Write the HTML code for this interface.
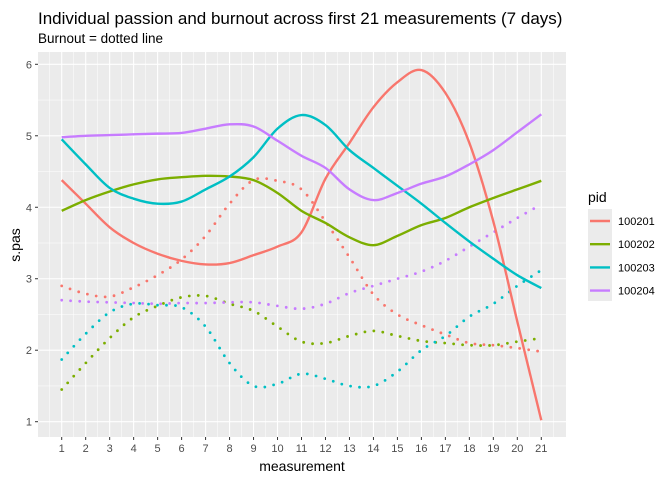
<!DOCTYPE html>
<html><head><meta charset="utf-8"><style>
body{margin:0;background:#fff;font-family:"Liberation Sans",sans-serif}
svg text{font-family:"Liberation Sans",sans-serif}
</style></head><body>
<svg id="chart" width="672" height="480">
<text x="38" y="24" font-size="17" fill="#000">Individual passion and burnout across first 21 measurements (7 days)</text>
<text x="38" y="43" font-size="13.5" fill="#000">Burnout = dotted line</text>
<rect x="38" y="52" width="528" height="385" fill="#ebebeb"/>
<g id="grid"></g><g id="series"></g><g id="axes"></g>
<text x="302" y="471" font-size="14" text-anchor="middle">measurement</text>
<text transform="translate(20,245) rotate(-90)" font-size="14" text-anchor="middle">s.pas</text>
<g>
<text x="588" y="202" font-size="14">pid</text>
<rect x="588" y="209" width="24" height="92" fill="#ebebeb"/>
<g id="legend"></g>
</g>
</svg>
<script>
const xs=[1,2,3,4,5,6,7,8,9,10,11,12,13,14,15,16,17,18,19,20,21];
const pids=["100201","100202","100203","100204"];
const colors=["#F8766D","#7CAE00","#00BFC4","#C77CFF"];
const yTicks=[1,2,3,4,5,6];
const passion201=[4.38,4.05,3.72,3.5,3.35,3.25,3.2,3.22,3.33,3.45,3.65,4.4,4.9,5.4,5.75,5.92,5.6,4.9,3.8,2.4,1.02];
const passion202=[3.95,4.1,4.22,4.32,4.39,4.42,4.44,4.43,4.38,4.2,3.95,3.78,3.58,3.47,3.6,3.75,3.85,4.0,4.13,4.25,4.37];
const passion203=[4.95,4.6,4.27,4.12,4.05,4.08,4.25,4.43,4.7,5.1,5.29,5.15,4.8,4.55,4.3,4.05,3.78,3.52,3.28,3.05,2.87];
const passion204=[4.98,5.0,5.01,5.02,5.03,5.04,5.1,5.16,5.13,4.93,4.72,4.55,4.25,4.1,4.2,4.33,4.43,4.6,4.8,5.05,5.3];
const burnout201=[2.9,2.79,2.75,2.88,3.05,3.27,3.6,4.05,4.38,4.37,4.25,3.8,3.3,2.78,2.5,2.35,2.22,2.1,2.07,2.03,1.98];
const burnout202=[1.45,1.82,2.17,2.46,2.62,2.74,2.76,2.65,2.55,2.33,2.12,2.1,2.2,2.27,2.2,2.13,2.1,2.07,2.07,2.12,2.17];
const burnout203=[1.87,2.23,2.53,2.65,2.63,2.6,2.33,1.82,1.5,1.53,1.67,1.6,1.5,1.5,1.7,2.0,2.2,2.47,2.65,2.9,3.12];
const burnout204=[2.7,2.68,2.67,2.66,2.65,2.66,2.66,2.67,2.67,2.62,2.58,2.65,2.8,2.9,3.0,3.1,3.25,3.45,3.65,3.85,4.04];
const passion=[passion201,passion202,passion203,passion204];
const burnout=[burnout201,burnout202,burnout203,burnout204];

const NS="http://www.w3.org/2000/svg";
const X=v=>61.7+(v-1)*23.98;
const Y=v=>421.7-(v-1)*71.48;
function mk(tag,attrs,parent){const e=document.createElementNS(NS,tag);for(const k in attrs)e.setAttribute(k,attrs[k]);parent.appendChild(e);return e;}
const grid=document.getElementById('grid'),axes=document.getElementById('axes'),ser=document.getElementById('series'),leg=document.getElementById('legend');
for(let v=0.5;v<=21.5;v+=1){const l=mk('line',{x1:X(v),x2:X(v),y1:52,y2:437,stroke:'#fff','stroke-width':0.5},grid);

}
for(let v=0.5;v<=6;v+=1){const l=mk('line',{x1:38,x2:566,y1:Y(v),y2:Y(v),stroke:'#fff','stroke-width':0.5},grid);

}
xs.forEach(v=>{const l=mk('line',{x1:X(v),x2:X(v),y1:52,y2:437,stroke:'#fff','stroke-width':1.1},grid);


const t=mk('line',{x1:X(v),x2:X(v),y1:437,y2:440,stroke:'#333'},axes);


const tx=mk('text',{x:X(v),y:452,'font-size':11,'text-anchor':'middle',fill:'#4d4d4d'},axes);tx.textContent=v;

});
yTicks.forEach(v=>{const l=mk('line',{x1:38,x2:566,y1:Y(v),y2:Y(v),stroke:'#fff','stroke-width':1.1},grid);


const t=mk('line',{x1:35,x2:38,y1:Y(v),y2:Y(v),stroke:'#333'},axes);


const tx=mk('text',{x:32,y:Y(v)+4,'font-size':11,'text-anchor':'end',fill:'#4d4d4d'},axes);tx.textContent=v;

});
function pathD(vals){const p=vals.map((v,i)=>[X(xs[i]),Y(v)]);let d='M'+p[0][0]+','+p[0][1];
for(let i=0;i<p.length-1;i++){const p0=p[i-1]||p[i],p1=p[i],p2=p[i+1],p3=p[i+2]||p2;
d+=' C'+(p1[0]+(p2[0]-p0[0])/6)+','+(p1[1]+(p2[1]-p0[1])/6)+' '+(p2[0]-(p3[0]-p1[0])/6)+','+(p2[1]-(p3[1]-p1[1])/6)+' '+p2[0]+','+p2[1];}return d;}
pids.forEach((id,k)=>{
const b=mk('path',{d:pathD(burnout[k]),fill:'none',stroke:colors[k],'stroke-width':2.8,'stroke-linecap':'round','stroke-dasharray':'0 9'},ser);

});
pids.forEach((id,k)=>{
const s=mk('path',{d:pathD(passion[k]),fill:'none',stroke:colors[k],'stroke-width':2.4},ser);


const y=221+k*23.2;
const l=mk('line',{x1:590,x2:610,y1:y,y2:y,stroke:colors[k],'stroke-width':2.4},leg);


const t=mk('text',{x:618,y:y+4,'font-size':11,fill:'#000'},leg);t.textContent=id;

});
</script>
</body></html>
